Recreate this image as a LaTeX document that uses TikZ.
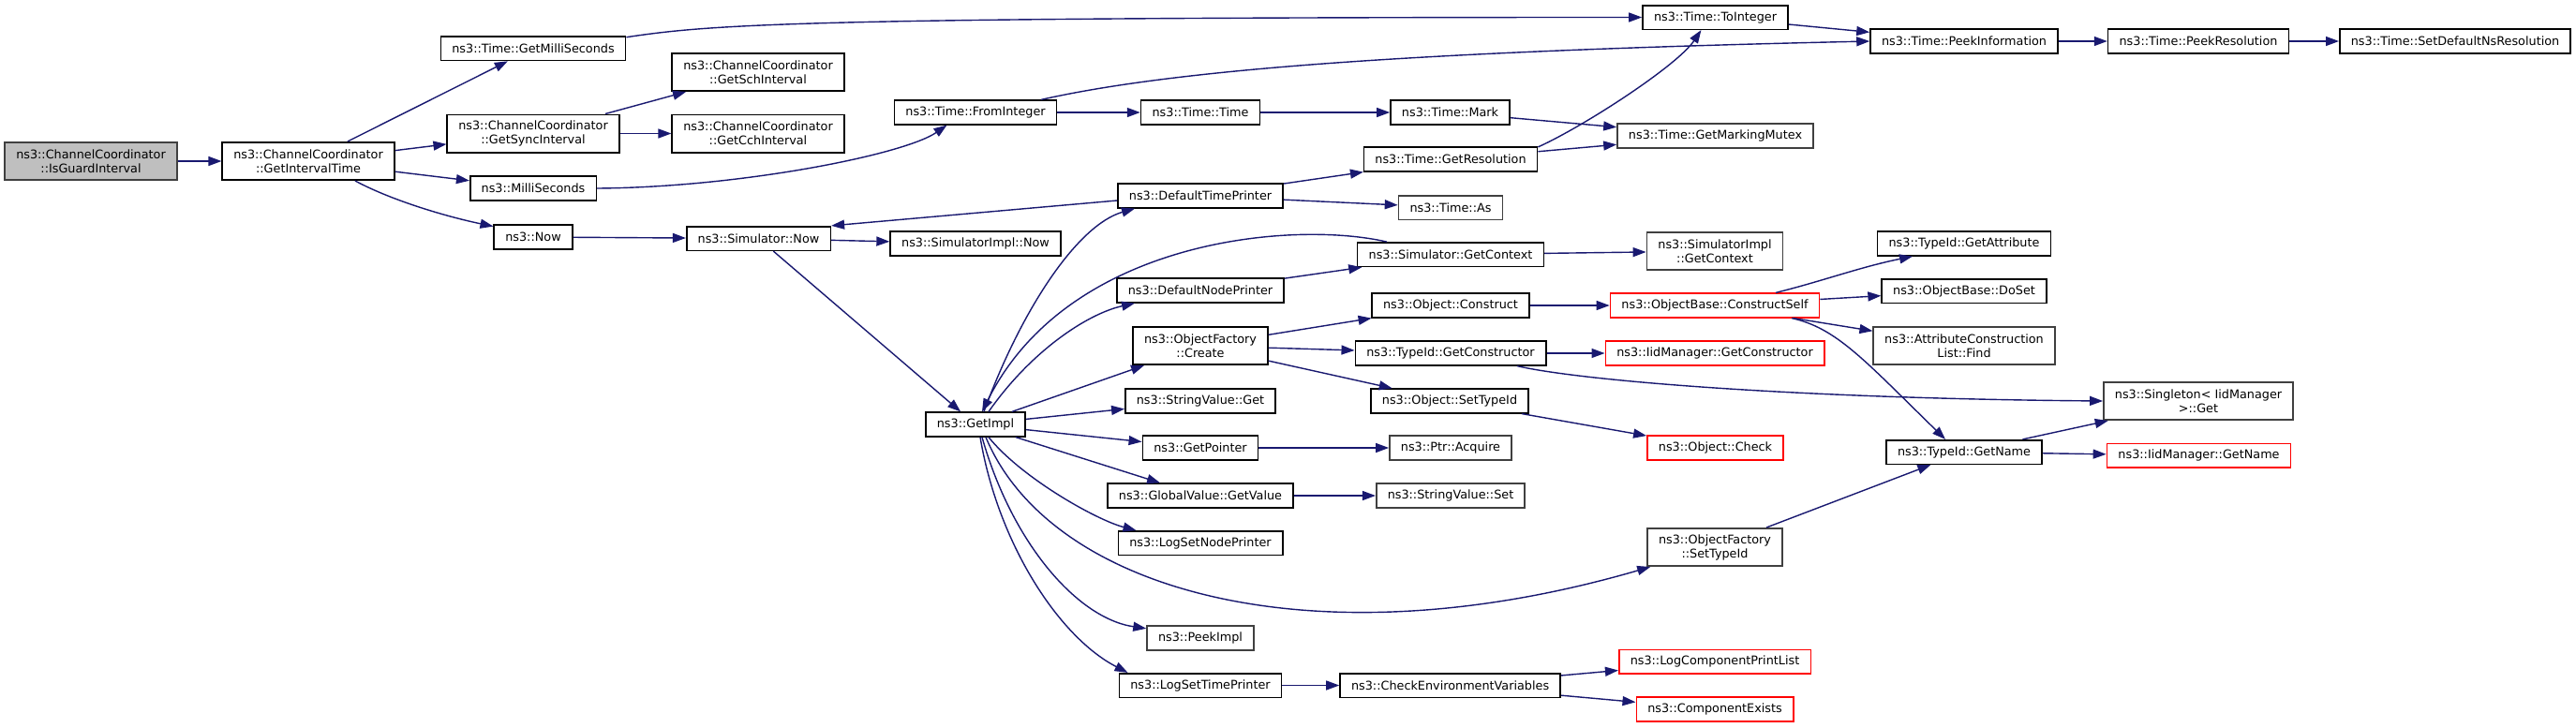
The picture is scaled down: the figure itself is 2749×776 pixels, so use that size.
\documentclass[tikz,border=0pt]{standalone}
\usepackage{fontspec}
\newfontfamily\graphfont{DejaVu Sans}
\usetikzlibrary{arrows.meta}
\definecolor{edgeblue}{HTML}{191970}
\definecolor{rootgrey}{HTML}{BFBFBF}
\definecolor{nodocgrey}{HTML}{404040}
\definecolor{truncred}{HTML}{FF0000}

\begin{document}
\begin{tikzpicture}[x = 0.5pt, y = -0.5pt,
		fn/.style = {draw = black, line width = 0.8pt, fill = white, rectangle, align = center, font = \graphfont\fontsize{6.4}{7.5}\selectfont, inner xsep = 6pt, inner ysep = 0pt, minimum height = 12.8pt},
		two/.style = {minimum height = 20.2pt},
		nodoc/.style = {draw = nodocgrey},
		trunc/.style = {draw = truncred},
		root/.style = {fill = rootgrey, draw = nodocgrey},
		call/.style = {draw = edgeblue, line width = 0.7pt, -{Triangle[length = 7pt, width = 5pt]}}]
	\useasboundingbox (0, 0) rectangle (2749, 776);

	\node[fn, two, root] (guard) at (97, 172) {ns3::ChannelCoordinator\\::IsGuardInterval};
	\node[fn, two] (interval) at (329, 172) {ns3::ChannelCoordinator\\::GetIntervalTime};
	\node[fn] (getms) at (569, 51.7) {ns3::Time::GetMilliSeconds};
	\node[fn, two] (sync) at (569, 142.5) {ns3::ChannelCoordinator\\::GetSyncInterval};
	\node[fn] (millis) at (569, 201) {ns3::MilliSeconds};
	\node[fn] (now) at (569, 253) {ns3::Now};
	\node[fn, two] (sch) at (809, 77) {ns3::ChannelCoordinator\\::GetSchInterval};
	\node[fn, two] (cch) at (809, 142.5) {ns3::ChannelCoordinator\\::GetCchInterval};
	\node[fn] (simnow) at (809.5, 254.5) {ns3::Simulator::Now};
	\node[fn] (fromint) at (1041, 120) {ns3::Time::FromInteger};
	\node[fn] (implnow) at (1041, 260) {ns3::SimulatorImpl::Now};
	\node[fn] (getimpl) at (1041, 453) {ns3::GetImpl};
	\node[fn] (ttime) at (1281, 120) {ns3::Time::Time};
	\node[fn] (timeprn) at (1281, 209) {ns3::DefaultTimePrinter};
	\node[fn] (nodeprn) at (1281, 310) {ns3::DefaultNodePrinter};
	\node[fn, two] (create) at (1281, 369) {ns3::ObjectFactory\\::Create};
	\node[fn] (svget) at (1281, 428) {ns3::StringValue::Get};
	\node[fn] (getptr) at (1281, 478) {ns3::GetPointer};
	\node[fn] (gvget) at (1281, 529) {ns3::GlobalValue::GetValue};
	\node[fn] (setnodeprn) at (1281, 579.7) {ns3::LogSetNodePrinter};
	\node[fn, nodoc] (peekimpl) at (1281, 681) {ns3::PeekImpl};
	\node[fn] (settimeprn) at (1281, 731.5) {ns3::LogSetTimePrinter};
	\node[fn] (mark) at (1547.5, 120) {ns3::Time::Mark};
	\node[fn] (getres) at (1548, 170) {ns3::Time::GetResolution};
	\node[fn, nodoc] (timeas) at (1548, 221.5) {ns3::Time::As};
	\node[fn] (getctx) at (1548, 271.7) {ns3::Simulator::GetContext};
	\node[fn] (construct) at (1548, 326) {ns3::Object::Construct};
	\node[fn] (getctor) at (1548, 377) {ns3::TypeId::GetConstructor};
	\node[fn] (objsettid) at (1547, 428) {ns3::Object::SetTypeId};
	\node[fn, nodoc] (acquire) at (1548, 478) {ns3::Ptr::Acquire};
	\node[fn, nodoc] (svset) at (1548, 529) {ns3::StringValue::Set};
	\node[fn] (checkenv) at (1547.6, 731.5) {ns3::CheckEnvironmentVariables};
	\node[fn] (toint) at (1830.5, 18.5) {ns3::Time::ToInteger};
	\node[fn, nodoc] (mutex) at (1830.5, 145) {ns3::Time::GetMarkingMutex};
	\node[fn, two, nodoc] (implctx) at (1830, 268) {ns3::SimulatorImpl\\::GetContext};
	\node[fn, trunc] (cself) at (1830, 326) {ns3::ObjectBase::ConstructSelf};
	\node[fn, trunc] (iidctor) at (1830, 377) {ns3::IidManager::GetConstructor};
	\node[fn, trunc] (check) at (1830.5, 478) {ns3::Object::Check};
	\node[fn, two, nodoc] (facsettid) at (1830, 584) {ns3::ObjectFactory\\::SetTypeId};
	\node[fn, trunc] (printlist) at (1830, 706.3) {ns3::LogComponentPrintList};
	\node[fn, trunc] (compexists) at (1830, 757) {ns3::ComponentExists};
	\node[fn] (peekinfo) at (2096, 44) {ns3::Time::PeekInformation};
	\node[fn] (getattr) at (2096, 260) {ns3::TypeId::GetAttribute};
	\node[fn] (doset) at (2096, 310.5) {ns3::ObjectBase::DoSet};
	\node[fn, two, nodoc] (aclfind) at (2096, 369) {ns3::AttributeConstruction\\List::Find};
	\node[fn] (getname) at (2096, 482.5) {ns3::TypeId::GetName};
	\node[fn] (peekres) at (2346, 44) {ns3::Time::PeekResolution};
	\node[fn, two, nodoc] (singleton) at (2346, 428) {ns3::Singleton< IidManager\\>::Get};
	\node[fn, trunc] (iidname) at (2346.5, 486.3) {ns3::IidManager::GetName};
	\node[fn] (setdefres) at (2620, 44) {ns3::Time::SetDefaultNsResolution};

	\draw[call] (guard) -- (interval);
	\draw[call] (interval) -- (getms);
	\draw[call] (interval) -- (sync);
	\draw[call] (interval) -- (millis);
	\draw[call] ([xshift = 25pt]interval.south) .. controls (420, 215) and (480, 232) .. (now.165);
	\draw[call] (sync) -- (sch);
	\draw[call] (sync) -- (cch);
	\draw[call] ([yshift = 6pt]getms.east) .. controls (760, 26) and (850, 18.5) .. (toint.west);
	\draw[call] (millis.east) .. controls (790, 200) and (965, 165) .. (fromint.-156);
	\draw[call] (now) -- (simnow);
	\draw[call] (simnow) -- (implnow);
	\draw[call] (simnow) -- (getimpl);
	\draw[call] ([yshift = -2.5pt]timeprn.west) -- (simnow.north east);
	\draw[call] ([xshift = 4.5pt]getimpl.north) .. controls (1090, 330) and (1150, 240) .. (timeprn.191.5);
	\draw[call] ([xshift = 16pt]getctx.north west) .. controls (1380, 235) and (1140, 255) .. ([xshift = 3.5pt]getimpl.north);
	\draw[call] ([xshift = 7pt]getimpl.north) .. controls (1100, 375) and (1160, 335) .. (nodeprn.191.4);
	\draw[call] (getimpl) -- (create);
	\draw[call] (getimpl) -- (svget);
	\draw[call] (getimpl) -- (getptr);
	\draw[call] (getimpl) -- (gvget);
	\draw[call] ([xshift = 7pt]getimpl.south) .. controls (1090, 510) and (1170, 555) .. ([xshift = 10pt]setnodeprn.north west);
	\draw[call] ([xshift = 5.5pt]getimpl.south) .. controls (1120, 630) and (1400, 710) .. ([xshift = 2pt]facsettid.south west);
	\draw[call] ([xshift = 3.5pt]getimpl.south) .. controls (1080, 580) and (1150, 660) .. (peekimpl.170);
	\draw[call] ([xshift = 2.5pt]getimpl.south) .. controls (1065, 580) and (1130, 680) .. ([xshift = 5pt]settimeprn.north west);
	\draw[call] (fromint) -- (ttime);
	\draw[call] (fromint.11.2) .. controls (1250, 75) and (1500, 55) .. (peekinfo.west);
	\draw[call] (ttime) -- (mark);
	\draw[call] (mark) -- (mutex);
	\draw[call] (getres) -- (mutex);
	\draw[call] (getres.8.6) .. controls (1690, 135) and (1790, 70) .. (toint.-138.5);
	\draw[call] (toint) -- (peekinfo);
	\draw[call] (peekinfo) -- (peekres);
	\draw[call] (peekres) -- (setdefres);
	\draw[call] (timeprn) -- (getres);
	\draw[call] (timeprn) -- (timeas);
	\draw[call] (nodeprn) -- (getctx);
	\draw[call] (getctx) -- (implctx);
	\draw[call] (create) -- (construct);
	\draw[call] (create) -- (getctor);
	\draw[call] (create) -- (objsettid);
	\draw[call] (construct) -- (cself);
	\draw[call] (getctor) -- (iidctor);
	\draw[call] ([xshift = 35.5pt]getctor.south) .. controls (1680, 405) and (1900, 425) .. (singleton.west);
	\draw[call] (objsettid) -- (check);
	\draw[call] (getptr) -- (acquire);
	\draw[call] (gvget) -- (svset);
	\draw[call] (settimeprn) -- (checkenv);
	\draw[call] (checkenv) -- (printlist);
	\draw[call] (checkenv) -- (compexists);
	\draw[call] ([xshift = 32.5pt]cself.north) .. controls (1945, 300) and (1985, 285) .. ([xshift = -27.5pt]getattr.south);
	\draw[call] (cself) -- (doset);
	\draw[call] (cself) -- (aclfind);
	\draw[call] ([xshift = 41pt]cself.south) .. controls (1960, 350) and (1990, 385) .. ([xshift = -10pt]getname.north);
	\draw[call] (facsettid) -- (getname);
	\draw[call] (getname) -- (singleton);
	\draw[call] (getname) -- (iidname);
\end{tikzpicture}
\end{document}
